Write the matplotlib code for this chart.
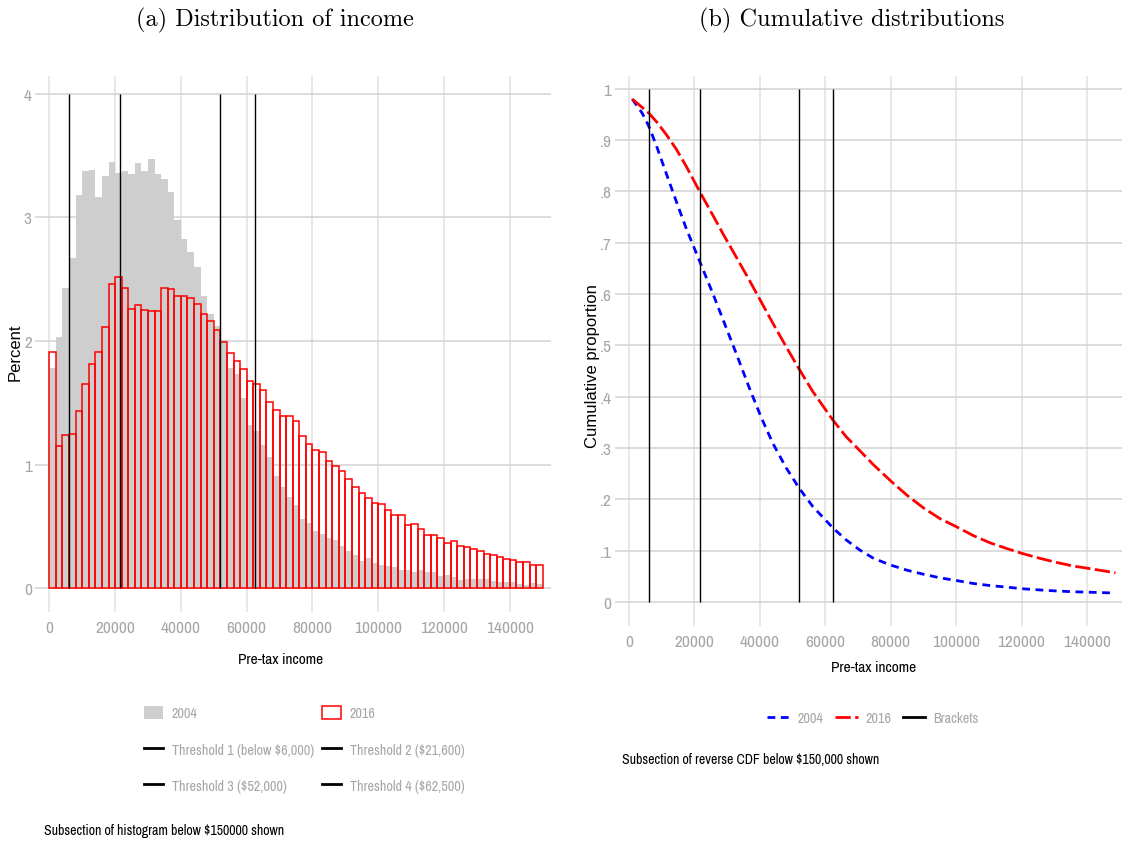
import numpy as np
import matplotlib
matplotlib.use("Agg")
import matplotlib.pyplot as plt
from matplotlib import font_manager
from matplotlib.patches import Patch
from matplotlib.lines import Line2D

# ── data ─────────────────────────────────────────────
bin_start = np.arange(0, 150000, 2000)
bin_width = 2000

pct_2004 = [1.78, 2.03, 2.43, 2.67, 3.18, 3.37, 3.38, 3.16, 3.33, 3.45,
            3.36, 3.37, 3.35, 3.44, 3.37, 3.47, 3.35, 3.31, 3.20, 2.98,
            2.82, 2.72, 2.60, 2.36, 2.22, 2.12, 2.01, 1.78, 1.73, 1.54,
            1.32, 1.27, 1.16, 1.06, 0.91, 0.82, 0.74, 0.67, 0.56, 0.53,
            0.46, 0.44, 0.41, 0.39, 0.34, 0.30, 0.27, 0.22, 0.245, 0.205,
            0.19, 0.18, 0.17, 0.145, 0.15, 0.13, 0.145, 0.13, 0.13, 0.10,
            0.105, 0.09, 0.07, 0.075, 0.075, 0.075, 0.075, 0.06, 0.055, 0.05,
            0.05, 0.035, 0.03, 0.04, 0.035]
pct_2016 = [1.91, 1.15, 1.24, 1.245, 1.43, 1.65, 1.81, 1.91, 2.11, 2.46,
            2.52, 2.43, 2.26, 2.29, 2.25, 2.24, 2.245, 2.43, 2.42, 2.36,
            2.36, 2.35, 2.30, 2.22, 2.16, 2.09, 1.99, 1.90, 1.84, 1.77,
            1.68, 1.65, 1.60, 1.51, 1.44, 1.39, 1.39, 1.35, 1.23, 1.17,
            1.12, 1.10, 1.03, 0.99, 0.95, 0.88, 0.82, 0.77, 0.73, 0.69,
            0.68, 0.63, 0.59, 0.59, 0.51, 0.52, 0.48, 0.43, 0.43, 0.41,
            0.37, 0.385, 0.34, 0.335, 0.32, 0.30, 0.275, 0.27, 0.25, 0.24,
            0.23, 0.21, 0.21, 0.19, 0.19]

thresholds = [6000, 21600, 52000, 62500]
threshold_labels = ["Threshold 1 (below $6,000)", "Threshold 2 ($21,600)",
                    "Threshold 3 ($52,000)", "Threshold 4 ($62,500)"]

cdf_x = [1000, 4000, 6000, 8400, 11400, 14500, 17500, 21600, 25700, 28700,
         32800, 36800, 40400, 44000, 48000, 52000, 56200, 62400, 66400, 70400,
         74800, 80000, 85000, 90100, 95200, 100000, 105400, 110500, 115600,
         120000, 125700, 130800, 135900, 140000, 148700]
cdf_2004 = [0.98, 0.953, 0.928, 0.889, 0.835, 0.78, 0.728, 0.664, 0.60, 0.551,
            0.484, 0.417, 0.36, 0.309, 0.262, 0.222, 0.186, 0.144, 0.121, 0.102,
            0.085, 0.072, 0.062, 0.054, 0.047, 0.042, 0.036, 0.032, 0.029,
            0.026, 0.0235, 0.0215, 0.020, 0.0193, 0.0175]
cdf_2016 = [0.98, 0.964, 0.953, 0.936, 0.911, 0.882, 0.849, 0.80, 0.753, 0.718,
            0.672, 0.627, 0.585, 0.543, 0.498, 0.454, 0.41, 0.354, 0.322, 0.296,
            0.267, 0.236, 0.208, 0.183, 0.162, 0.147, 0.129, 0.115, 0.104,
            0.095, 0.085, 0.077, 0.070, 0.066, 0.057]

x_ticks = [0, 20000, 40000, 60000, 80000, 100000, 120000, 140000]
pct_ticks = [0, 1, 2, 3, 4]
prop_ticks = [0, .1, .2, .3, .4, .5, .6, .7, .8, .9, 1]
prop_labels = ["0", ".1", ".2", ".3", ".4", ".5", ".6", ".7", ".8", ".9", "1"]

# ── fonts / colours ──────────────────────────────────
fonts = font_manager.fontManager.ttflist
names = {f.name for f in fonts}
narrow_names = [f.name for f in fonts if "Narrow" in f.name or "Condensed" in f.name]
if "Liberation Sans Narrow" in names:
    NARROW = dict(family="Liberation Sans Narrow")
elif narrow_names:
    NARROW = dict(family=narrow_names[0])
else:
    NARROW = dict(family="Liberation Sans")
TICK_GRAY = "#a6a6a6"
GRID_H = "#d2d2d2"
GRID_V = "#e2e2e2"
W, H = 1124, 845


def fx(px):
    return px / W


def fy(py):
    return 1 - py / H


def style_axis(ax):
    for s in ax.spines.values():
        s.set_visible(False)
    ax.set_axisbelow(True)
    ax.grid(axis="y", color=GRID_H, lw=1.1)
    ax.grid(axis="x", color=GRID_V, lw=1.1)
    ax.tick_params(axis="y", length=9.4, width=1.1, color=GRID_H,
                   labelcolor=TICK_GRAY, labelsize=12.5, pad=2.5)
    ax.tick_params(axis="x", length=15, width=1.1, color=GRID_V,
                   labelcolor=TICK_GRAY, labelsize=12.5, pad=6)
    for lab in ax.get_xticklabels() + ax.get_yticklabels():
        lab.set(**NARROW)


fig = plt.figure(figsize=(W / 100, H / 100), dpi=100)

# ── Panel (a): histogram ─────────────────────────────
ax1 = fig.add_axes([fx(48.3), fy(591.8), fx(551 - 48.3), (591.8 - 77.2) / H])
ax1.bar(bin_start, pct_2004, width=bin_width, align="edge",
        color="#cecece", edgecolor="none", zorder=2)
ax1.bar(bin_start, pct_2016, width=bin_width, align="edge",
        facecolor="none", edgecolor="red", lw=1.1, zorder=3)
ax1.vlines(thresholds, 0, 4, color="black", lw=1.0, zorder=4)
ax1.set_xlim(-300, 152500)
ax1.set_ylim(-0.02, 4.14)
ax1.set_xticks(x_ticks)
ax1.set_xticklabels([str(t) for t in x_ticks])
ax1.set_yticks(pct_ticks)
ax1.set_yticklabels([str(t) for t in pct_ticks])
style_axis(ax1)
ax1.set_xlabel("Pre-tax income", fontsize=11, color="black", va="center", **NARROW)
ax1.xaxis.set_label_coords(fx(281), fy(660), transform=fig.transFigure)
ax1.set_ylabel("Percent", fontsize=12, family="Liberation Sans", color="black",
               va="center", ha="center")
ax1.yaxis.set_label_coords(fx(15), fy(352), transform=fig.transFigure)

fig.text(fx(275), fy(20), "(a) Distribution of income", ha="center",
         va="center", fontsize=17.5, family="cmr10")

line_h = Line2D([], [], color="black", lw=2)
# column-major order so rows read: 2004|2016, T1|T2, T3|T4
h1 = [Patch(facecolor="#cecece", edgecolor="none"), line_h, line_h,
      Patch(facecolor="white", edgecolor="red", lw=1.1), line_h, line_h]
l1 = ["2004", threshold_labels[0], threshold_labels[2],
      "2016", threshold_labels[1], threshold_labels[3]]
leg1 = fig.legend(h1, l1, ncol=2, loc="upper left",
                  bbox_to_anchor=(fx(144), fy(707)), frameon=False,
                  borderpad=0, borderaxespad=0,
                  prop=dict(size=10.2, **NARROW), handlelength=1.35,
                  handleheight=1.05, labelspacing=1.55, columnspacing=0.6,
                  handletextpad=0.6)
for t in leg1.get_texts():
    t.set_color(TICK_GRAY)

fig.text(fx(44), fy(831), "Subsection of histogram below $150000 shown",
         ha="left", va="center", fontsize=10, color="black", **NARROW)

# ── Panel (b): reverse CDF ───────────────────────────
ax2 = fig.add_axes([fx(628), fy(605.6), fx(1122 - 628), (605.6 - 77) / H])
ax2.plot(cdf_x, cdf_2004, color="blue", lw=2.0, dashes=(2.8, 2.0), zorder=3)
ax2.plot(cdf_x, cdf_2016, color="red", lw=2.0, dashes=(5.5, 1.6), zorder=3)
ax2.vlines(thresholds, 0, 1, color="black", lw=1.0, zorder=4)
ax2.set_xlim(-300, 150700)
ax2.set_ylim(-0.005, 1.025)
ax2.set_xticks(x_ticks)
ax2.set_xticklabels([str(t) for t in x_ticks])
ax2.set_yticks(prop_ticks)
ax2.set_yticklabels(prop_labels)
style_axis(ax2)
ax2.set_xlabel("Pre-tax income", fontsize=11, color="black", va="center", **NARROW)
ax2.xaxis.set_label_coords(fx(874), fy(668), transform=fig.transFigure)
ax2.set_ylabel("Cumulative proportion", fontsize=12, family="Liberation Sans",
               color="black", va="center", ha="center")
ax2.yaxis.set_label_coords(fx(592), fy(366), transform=fig.transFigure)

fig.text(fx(852), fy(20), "(b) Cumulative distributions", ha="center",
         va="center", fontsize=17.5, family="cmr10")

h2 = [Line2D([], [], color="blue", lw=2.0, dashes=(2.8, 2.0)),
      Line2D([], [], color="red", lw=2.0, dashes=(5.5, 1.6)),
      Line2D([], [], color="black", lw=2.0)]
leg2 = fig.legend(h2, ["2004", "2016", "Brackets"], ncol=3, loc="center",
                  bbox_to_anchor=(fx(873), fy(719)), frameon=False,
                  prop=dict(size=10.2, **NARROW), handlelength=1.6,
                  columnspacing=0.8, handletextpad=0.55)
for t in leg2.get_texts():
    t.set_color(TICK_GRAY)

fig.text(fx(622), fy(760), "Subsection of reverse CDF below $150,000 shown",
         ha="left", va="center", fontsize=10, color="black", **NARROW)

fig.savefig("out.png", dpi=100)
